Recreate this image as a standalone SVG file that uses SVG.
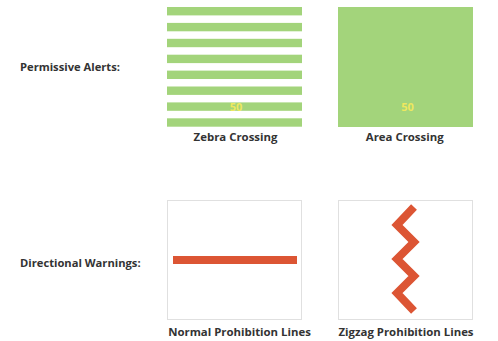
<svg xmlns="http://www.w3.org/2000/svg" width="498" height="341" viewBox="0 0 498 341">
<style>
  text { font-family: "Open Sans", "Liberation Sans", sans-serif; font-weight: 700; fill: #333; }
  .lbl { font-size: 11.2px; }
  .cap { font-size: 11.4px; text-anchor: middle; }
  .num { font-size: 11px; fill: #eee85e; text-anchor: middle; font-weight: 700; }
  .stripe { fill: #a3d47b; }
  .frame { fill: #ffffff; stroke: #e0e0e0; stroke-width: 1; }
  .red { fill: none; stroke: #dc5534; stroke-width: 8; }
</style>
<rect width="498" height="341" fill="#ffffff"/>
<text class="lbl" x="20" y="71">Permissive Alerts:</text>
<text class="lbl" x="20" y="267">Directional Warnings:</text>
<g id="zebra">
  <rect class="stripe" x="167" y="7" width="135" height="8.4"/>
  <rect class="stripe" x="167" y="22.9" width="135" height="8.4"/>
  <rect class="stripe" x="167" y="38.8" width="135" height="8.4"/>
  <rect class="stripe" x="167" y="54.7" width="135" height="8.4"/>
  <rect class="stripe" x="167" y="70.6" width="135" height="8.4"/>
  <rect class="stripe" x="167" y="86.5" width="135" height="8.4"/>
  <rect class="stripe" x="167" y="102.4" width="135" height="8.4"/>
  <rect class="stripe" x="167" y="118.3" width="135" height="8.4"/>
  <text class="num" x="236" y="110.5">50</text>
  <text class="cap" x="235.5" y="141">Zebra Crossing</text>
</g>
<g id="area">
  <rect class="stripe" x="338" y="7" width="135" height="120"/>
  <text class="num" x="407.5" y="110.5">50</text>
  <text class="cap" x="404.7" y="141">Area Crossing</text>
</g>
<g id="normal">
  <rect class="frame" x="167.5" y="200.5" width="134" height="119"/>
  <line class="red" x1="173" y1="260" x2="297" y2="260"/>
  <text class="cap" x="239.5" y="336">Normal Prohibition Lines</text>
</g>
<g id="zigzag">
  <rect class="frame" x="338.5" y="200.5" width="134" height="119"/>
  <polyline class="red" points="414,207 397,225 414,242 397,259 414,276 397,293 414,311"/>
  <text class="cap" x="406" y="336">Zigzag Prohibition Lines</text>
</g>
<g id="connectors"></g>
</svg>
